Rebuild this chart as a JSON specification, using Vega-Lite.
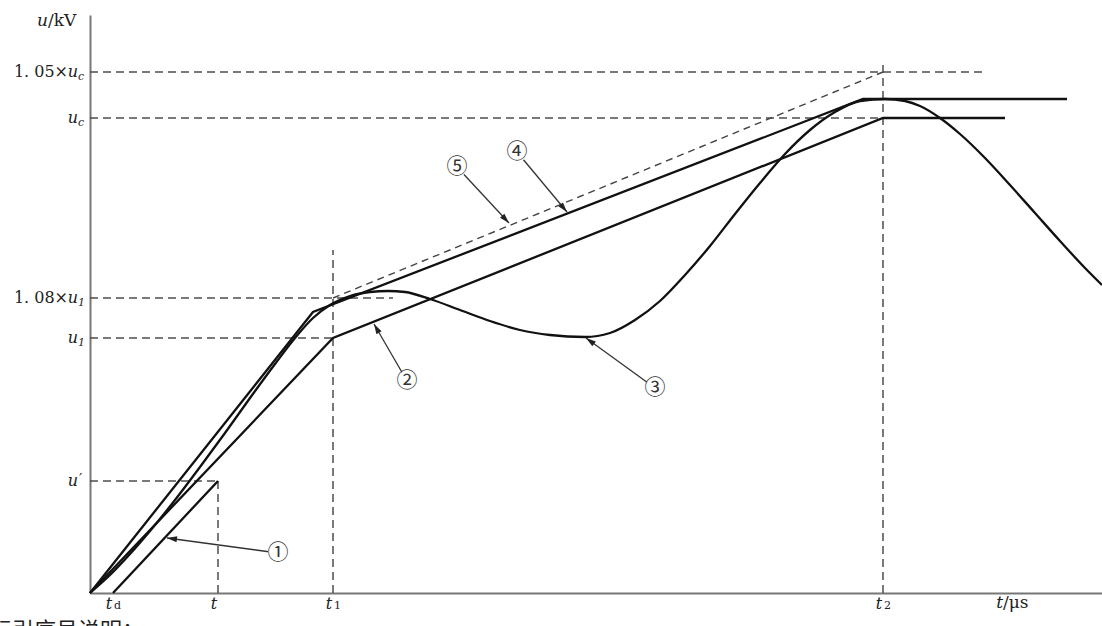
{
  "$schema": "https://vega.github.io/schema/vega-lite/v6.json",
  "width": 1012,
  "height": 578,
  "autosize": {"type": "none"},
  "padding": {"left": 90, "top": 15, "right": 0, "bottom": 33},
  "background": "white",
  "config": {
    "view": {"stroke": null},
    "axis": {"domainColor": "#777777", "domainWidth": 2, "ticks": false, "labels": false, "grid": false, "title": null}
  },
  "datasets": {
    "refs": [
      {"t": 0, "u": 521, "t2": 897, "u2": 521},
      {"t": 0, "u": 475, "t2": 793, "u2": 475},
      {"t": 0, "u": 295, "t2": 303, "u2": 295},
      {"t": 0, "u": 255, "t2": 243, "u2": 255},
      {"t": 0, "u": 112, "t2": 128, "u2": 112},
      {"t": 128, "u": 0, "t2": 128, "u2": 112},
      {"t": 243, "u": 0, "t2": 243, "u2": 343},
      {"t": 793, "u": 0, "t2": 793, "u2": 533}
    ],
    "lines": [
      {"series": "1", "t": 23, "u": 0},
      {"series": "1", "t": 128, "u": 112},
      {"series": "2", "t": 0, "u": 0},
      {"series": "2", "t": 243, "u": 255},
      {"series": "2", "t": 793, "u": 475},
      {"series": "2", "t": 915, "u": 475},
      {"series": "4", "t": 0, "u": 0},
      {"series": "4", "t": 223, "u": 281},
      {"series": "4", "t": 773, "u": 494},
      {"series": "4", "t": 977, "u": 494}
    ],
    "trv": [
      {"t": 0, "u": 0}, {"t": 20, "u": 18}, {"t": 40, "u": 39}, {"t": 60, "u": 62},
      {"t": 85, "u": 93}, {"t": 110, "u": 126}, {"t": 135, "u": 160}, {"t": 160, "u": 195},
      {"t": 185, "u": 229}, {"t": 205, "u": 255}, {"t": 223, "u": 275}, {"t": 240, "u": 288},
      {"t": 260, "u": 297}, {"t": 280, "u": 301}, {"t": 298, "u": 302}, {"t": 315, "u": 301},
      {"t": 340, "u": 294}, {"t": 370, "u": 283}, {"t": 400, "u": 272}, {"t": 430, "u": 263},
      {"t": 460, "u": 258}, {"t": 495, "u": 256}, {"t": 520, "u": 260}, {"t": 545, "u": 273},
      {"t": 570, "u": 292}, {"t": 595, "u": 318}, {"t": 620, "u": 347}, {"t": 645, "u": 379},
      {"t": 670, "u": 410}, {"t": 695, "u": 439}, {"t": 720, "u": 463}, {"t": 745, "u": 481},
      {"t": 770, "u": 492}, {"t": 795, "u": 494}, {"t": 815, "u": 492}, {"t": 830, "u": 487},
      {"t": 850, "u": 475}, {"t": 870, "u": 459}, {"t": 895, "u": 435}, {"t": 920, "u": 408},
      {"t": 945, "u": 380}, {"t": 970, "u": 352}, {"t": 995, "u": 325}, {"t": 1012, "u": 308}
    ],
    "envelope": [
      {"t": 243, "u": 295},
      {"t": 793, "u": 521}
    ],
    "callouts": [
      {"id": "①", "cx": 188, "cy": 40, "tx": 77, "ty": 55},
      {"id": "②", "cx": 317, "cy": 212, "tx": 284, "ty": 269},
      {"id": "③", "cx": 565, "cy": 205, "tx": 496, "ty": 255},
      {"id": "④", "cx": 427, "cy": 441, "tx": 477, "ty": 381},
      {"id": "⑤", "cx": 367, "cy": 426, "tx": 419, "ty": 370}
    ],
    "ylabels": [
      {"u": 521, "pre": "1. 05×", "v": "u", "sub": "c", "sup": ""},
      {"u": 475, "pre": "", "v": "u", "sub": "c", "sup": ""},
      {"u": 295, "pre": "1. 08×", "v": "u", "sub": "1", "sup": ""},
      {"u": 255, "pre": "", "v": "u", "sub": "1", "sup": ""},
      {"u": 112, "pre": "", "v": "u", "sub": "", "sup": "′"}
    ],
    "xlabels": [
      {"t": 23, "v": "t", "sub": "d"},
      {"t": 128, "v": "t", "sub": ""},
      {"t": 243, "v": "t", "sub": "1"},
      {"t": 793, "v": "t", "sub": "2"}
    ],
    "titles": [
      {"t": -42, "u": 572, "v": "u", "unit": "/kV"},
      {"t": 913, "u": -10, "v": "t", "unit": "/μs"}
    ],
    "notes": [
      {"t": -100, "u": -38, "text": "标引序号说明："}
    ]
  },
  "layer": [
    {
      "data": {"name": "refs"},
      "mark": {"type": "rule", "strokeDash": [8, 5], "strokeWidth": 1.5, "color": "#4d4d4d"},
      "encoding": {
        "x": {"field": "t", "type": "quantitative", "scale": {"domain": [0, 1012], "nice": false, "zero": false}, "axis": {}},
        "y": {"field": "u", "type": "quantitative", "scale": {"domain": [0, 578], "nice": false, "zero": false}, "axis": {}},
        "x2": {"field": "t2"},
        "y2": {"field": "u2"}
      }
    },
    {
      "data": {"name": "lines"},
      "mark": {"type": "line", "color": "#111111", "strokeWidth": 2.3},
      "encoding": {
        "x": {"field": "t", "type": "quantitative"},
        "y": {"field": "u", "type": "quantitative"},
        "detail": {"field": "series"}
      }
    },
    {
      "data": {"name": "trv"},
      "mark": {"type": "line", "color": "#111111", "strokeWidth": 2.3, "interpolate": "monotone"},
      "encoding": {
        "x": {"field": "t", "type": "quantitative"},
        "y": {"field": "u", "type": "quantitative"}
      }
    },
    {
      "data": {"name": "envelope"},
      "mark": {"type": "line", "color": "#444444", "strokeWidth": 1.4, "strokeDash": [7, 5]},
      "encoding": {
        "x": {"field": "t", "type": "quantitative"},
        "y": {"field": "u", "type": "quantitative"}
      }
    },
    {
      "data": {"name": "callouts"},
      "mark": {"type": "rule", "color": "#333333", "strokeWidth": 1.3},
      "encoding": {
        "x": {"field": "cx", "type": "quantitative"},
        "y": {"field": "cy", "type": "quantitative"},
        "x2": {"field": "tx"},
        "y2": {"field": "ty"}
      }
    },
    {
      "data": {"name": "callouts"},
      "transform": [
        {"calculate": "atan2(datum.tx - datum.cx, datum.ty - datum.cy) * 180 / PI", "as": "heading"}
      ],
      "mark": {"type": "point", "shape": "M0,0L0.3,1L-0.3,1Z", "filled": true, "color": "#222222", "size": 400, "opacity": 1},
      "encoding": {
        "x": {"field": "tx", "type": "quantitative"},
        "y": {"field": "ty", "type": "quantitative"},
        "angle": {"field": "heading", "type": "quantitative", "scale": null}
      }
    },
    {
      "data": {"name": "callouts"},
      "mark": {"type": "point", "shape": "circle", "filled": true, "color": "white", "size": 420, "opacity": 1},
      "encoding": {
        "x": {"field": "cx", "type": "quantitative"},
        "y": {"field": "cy", "type": "quantitative"}
      }
    },
    {
      "data": {"name": "callouts"},
      "mark": {"type": "text", "font": "Noto Sans CJK SC", "fontSize": 21, "color": "#333333", "align": "center", "baseline": "middle"},
      "encoding": {
        "x": {"field": "cx", "type": "quantitative"},
        "y": {"field": "cy", "type": "quantitative"},
        "text": {"field": "id"}
      }
    },
    {
      "data": {"name": "ylabels"},
      "mark": {"type": "text", "font": "DejaVu Serif", "fontSize": 16, "color": "#222222", "align": "right", "baseline": "middle", "dx": -22},
      "encoding": {
        "x": {"datum": 0},
        "y": {"field": "u", "type": "quantitative"},
        "text": {"field": "pre"}
      }
    },
    {
      "data": {"name": "ylabels"},
      "mark": {"type": "text", "font": "DejaVu Serif", "fontStyle": "italic", "fontSize": 16, "color": "#222222", "align": "right", "baseline": "middle", "dx": -12},
      "encoding": {
        "x": {"datum": 0},
        "y": {"field": "u", "type": "quantitative"},
        "text": {"field": "v"}
      }
    },
    {
      "data": {"name": "ylabels"},
      "mark": {"type": "text", "font": "DejaVu Serif", "fontStyle": "italic", "fontSize": 11, "color": "#222222", "align": "left", "baseline": "middle", "dx": -12, "dy": 5},
      "encoding": {
        "x": {"datum": 0},
        "y": {"field": "u", "type": "quantitative"},
        "text": {"field": "sub"}
      }
    },
    {
      "data": {"name": "ylabels"},
      "mark": {"type": "text", "font": "DejaVu Serif", "fontSize": 15, "color": "#222222", "align": "left", "baseline": "middle", "dx": -11, "dy": -2},
      "encoding": {
        "x": {"datum": 0},
        "y": {"field": "u", "type": "quantitative"},
        "text": {"field": "sup"}
      }
    },
    {
      "data": {"name": "xlabels"},
      "mark": {"type": "text", "font": "DejaVu Serif", "fontStyle": "italic", "fontSize": 16, "color": "#222222", "align": "center", "baseline": "top", "dx": -4, "dy": 3},
      "encoding": {
        "x": {"field": "t", "type": "quantitative"},
        "y": {"datum": 0},
        "text": {"field": "v"}
      }
    },
    {
      "data": {"name": "xlabels"},
      "mark": {"type": "text", "font": "DejaVu Serif", "fontSize": 11, "color": "#222222", "align": "left", "baseline": "top", "dx": 1, "dy": 7},
      "encoding": {
        "x": {"field": "t", "type": "quantitative"},
        "y": {"datum": 0},
        "text": {"field": "sub"}
      }
    },
    {
      "mark": {"type": "text", "font": "DejaVu Serif", "fontSize": 16, "color": "#222222", "align": "right", "baseline": "top", "dx": -3, "dy": 3},
      "encoding": {
        "x": {"datum": 0},
        "y": {"datum": 0},
        "text": {"value": "0"}
      }
    },
    {
      "data": {"name": "titles"},
      "mark": {"type": "text", "font": "DejaVu Serif", "fontStyle": "italic", "fontSize": 17, "color": "#222222", "align": "right", "baseline": "middle"},
      "encoding": {
        "x": {"field": "t", "type": "quantitative"},
        "y": {"field": "u", "type": "quantitative"},
        "text": {"field": "v"}
      }
    },
    {
      "data": {"name": "titles"},
      "mark": {"type": "text", "font": "DejaVu Serif", "fontSize": 17, "color": "#222222", "align": "left", "baseline": "middle"},
      "encoding": {
        "x": {"field": "t", "type": "quantitative"},
        "y": {"field": "u", "type": "quantitative"},
        "text": {"field": "unit"}
      }
    },
    {
      "data": {"name": "notes"},
      "mark": {"type": "text", "font": "Noto Sans CJK SC", "fontSize": 22, "color": "#222222", "align": "left", "baseline": "middle"},
      "encoding": {
        "x": {"field": "t", "type": "quantitative"},
        "y": {"field": "u", "type": "quantitative"},
        "text": {"field": "text"}
      }
    }
  ]
}
